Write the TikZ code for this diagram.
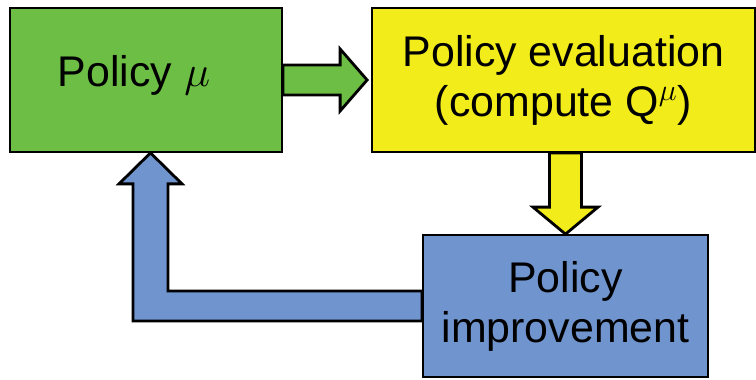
\documentclass[tikz,border=0pt]{standalone}
\usepackage{fontspec}
\setmainfont{Liberation Sans}
\usetikzlibrary{calc,backgrounds}
\definecolor{polgreen}{RGB}{108,190,69}
\definecolor{evalyellow}{RGB}{242,236,26}
\definecolor{impblue}{RGB}{112,148,206}
\tikzset{
    block/.style = {draw, rectangle, line width=1pt,
        inner sep=0pt, align=center,
        font=\fontsize{24.4}{28.4}\selectfont},
    label/.style = {inner sep=0pt, font=\fontsize{24.4}{28.4}\selectfont},
    flow/.style = {draw, line width=1.6pt, line join=miter}
}
\begin{document}
\begin{tikzpicture}
    \useasboundingbox (0,0) rectangle (15.12,7.58);
    \node [block, fill=polgreen, minimum width=5.44cm, minimum height=2.88cm] (policy) at (2.92,5.98) {};
    \node [label, anchor=base] (policytext) at ($(policy)+(-0.24,-0.13)$) {Policy $\mu$};
    \node [block, fill=evalyellow, minimum width=7.66cm, minimum height=2.88cm] (eval) at (11.27,5.98) {Policy evaluation\\(compute Q$^{\mu}$)};
    \node [block, fill=impblue, minimum width=5.70cm, minimum height=2.84cm] (improve) at (11.31,1.46) {Policy\\improvement};
    \begin{scope}[on background layer]
        \draw [flow, fill=polgreen] ($(policy.east)+(0,0.3)$) -- ($(eval.west)+(-0.62,0.3)$) -- ++(0,0.32)
            -- ($(eval.west)+(-0.08,0)$) -- ($(eval.west)+(-0.62,-0.62)$) -- ++(0,0.32)
            -- ($(policy.east)+(0,-0.3)$) -- cycle;
        \draw [flow, fill=evalyellow] ($(eval.south -| improve.north)+(-0.32,0)$) -- ($(improve.north)+(-0.32,0.54)$) -- ++(-0.33,0)
            -- (improve.north) -- ($(improve.north)+(0.65,0.54)$) -- ++(-0.33,0)
            -- ($(eval.south -| improve.north)+(0.32,0)$) -- cycle;
        % feedback loop back to the policy
        \coordinate (fbtip) at ($(policy.south)+(0.09,0)$);
        \draw [flow, fill=impblue] ($(improve.west)+(0,0.3)$) -- ($(fbtip |- improve.west)+(0.35,0.3)$)
            -- ($(fbtip)+(0.35,-0.62)$) -- ++(0.28,0) -- (fbtip) -- ($(fbtip)+(-0.63,-0.62)$) -- ++(0.28,0)
            -- ($(fbtip |- improve.west)+(-0.35,-0.3)$) -- ($(improve.west)+(0,-0.3)$) -- cycle;
    \end{scope}
\end{tikzpicture}
\end{document}
